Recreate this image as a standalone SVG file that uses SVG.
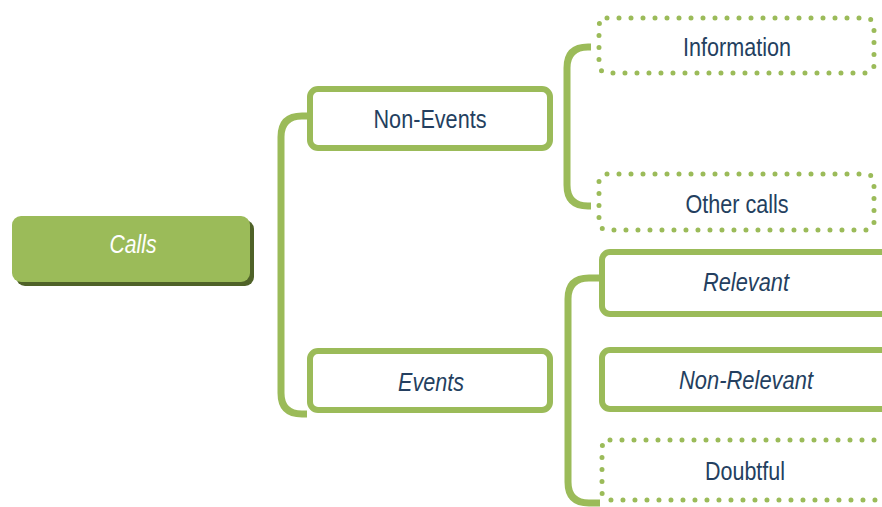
<svg xmlns="http://www.w3.org/2000/svg" width="882" height="507" viewBox="0 0 882 507">
<style>
.t{font-family:"Liberation Sans Narrow","Arial Narrow","Liberation Sans",sans-serif;font-size:26px;fill:#243f60;text-anchor:middle}
.i{font-style:italic}
.box{fill:#fff;stroke:#9bbb59;stroke-width:6}
.dot{fill:#fff;stroke:#9bbb59;stroke-width:5;stroke-dasharray:0 12;stroke-linecap:round}
.con{fill:none;stroke:#9bbb59;stroke-width:7}
</style>
<rect width="882" height="507" fill="#fff"/>
<g id="connectors">
<path class="con" d="M307 116 H302 Q281 116 281 137 V393 Q281 414 302 414 H307"/>
<path class="con" d="M591 47 H588 Q567 47 567 68 V185 Q567 206 588 206 H591"/>
<path class="con" d="M600 278 H589 Q568 278 568 299 V482 Q568 503 589 503 H600"/>
</g>
<g id="calls">
<rect x="16" y="220" width="238" height="66" rx="9" fill="#4f6228"/>
<rect x="12" y="216" width="238" height="66" rx="9" fill="#9bbb59"/>
<text class="t i" x="133" y="253" style="fill:#fff" textLength="47" lengthAdjust="spacingAndGlyphs">Calls</text>
</g>
<g id="non-events">
<rect class="box" x="310" y="89" width="240" height="59" rx="8"/>
<text class="t" x="430" y="128" textLength="113" lengthAdjust="spacingAndGlyphs">Non-Events</text>
</g>
<g id="events">
<rect class="box" x="310" y="351" width="240" height="59" rx="8"/>
<text class="t i" x="431" y="391" textLength="66" lengthAdjust="spacingAndGlyphs">Events</text>
</g>
<g id="information">
<rect class="dot" x="599" y="18" width="275" height="55" rx="8"/>
<text class="t" x="737" y="56" textLength="108" lengthAdjust="spacingAndGlyphs">Information</text>
</g>
<g id="other-calls">
<rect class="dot" x="599" y="174" width="275" height="56" rx="8"/>
<text class="t" x="737" y="213" textLength="103" lengthAdjust="spacingAndGlyphs">Other calls</text>
</g>
<g id="relevant">
<rect class="box" x="602" y="252" width="300" height="62" rx="8"/>
<text class="t i" x="746" y="291" textLength="86" lengthAdjust="spacingAndGlyphs">Relevant</text>
</g>
<g id="non-relevant">
<rect class="box" x="602" y="350" width="300" height="59" rx="8"/>
<text class="t i" x="746" y="389" textLength="134" lengthAdjust="spacingAndGlyphs">Non-Relevant</text>
</g>
<g id="doubtful">
<rect class="dot" x="602" y="440" width="300" height="60" rx="8"/>
<text class="t" x="745" y="480" textLength="80" lengthAdjust="spacingAndGlyphs">Doubtful</text>
</g>
</svg>
